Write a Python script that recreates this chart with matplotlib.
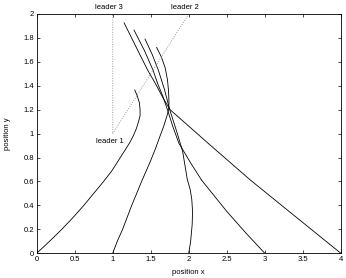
import matplotlib
matplotlib.use("Agg")
import matplotlib.pyplot as plt

plt.rcParams['font.family'] = ['Liberation Sans', 'DejaVu Sans']

# follower trajectories
ax_x = [0, 0.17, 0.33, 0.48, 0.62, 0.75, 0.88, 0.99, 1.08, 1.16, 1.22, 1.27, 1.31, 1.34, 1.36, 1.36, 1.35, 1.32, 1.29]
ax_y = [0, 0.10, 0.20, 0.30, 0.40, 0.50, 0.60, 0.69, 0.78, 0.86, 0.92, 0.98, 1.04, 1.10, 1.15, 1.20, 1.26, 1.32, 1.364]

bx_x = [1.0, 1.06, 1.13, 1.25, 1.38, 1.49, 1.56, 1.62, 1.67, 1.71, 1.735, 1.74, 1.735, 1.72, 1.69, 1.64, 1.578]
bx_y = [0.0, 0.10, 0.20, 0.40, 0.60, 0.76, 0.87, 0.975, 1.06, 1.14, 1.20, 1.26, 1.35, 1.45, 1.55, 1.64, 1.72]

cx_x = [2.0, 2.025, 2.045, 2.05, 2.04, 2.02, 1.98, 1.92, 1.85, 1.75, 1.68, 1.60, 1.52, 1.425]
cx_y = [0.0, 0.10, 0.24, 0.35, 0.45, 0.53, 0.62, 0.85, 1.00, 1.20, 1.37, 1.53, 1.66, 1.79]

dx_x = [3.0, 2.75, 2.5, 2.17, 2.02, 1.87, 1.79, 1.72, 1.66, 1.59, 1.53, 1.42, 1.28]
dx_y = [0.0, 0.17, 0.35, 0.61, 0.76, 0.92, 1.06, 1.20, 1.31, 1.42, 1.53, 1.69, 1.865]

ex_x = [4.0, 3.27, 2.81, 2.28, 1.95, 1.754, 1.66, 1.56, 1.46, 1.31, 1.15]
ex_y = [0.0, 0.375, 0.612, 0.905, 1.09, 1.20, 1.30, 1.42, 1.53, 1.72, 1.925]

# leaders
lead_x = [1, 2, 1]
lead_y = [1, 2, 2]
lead_names = ["leader 1", "leader 2", "leader 3"]

fig = plt.figure(figsize=(3.46, 2.78), dpi=100)
ax = fig.add_axes([0.106, 0.089, 0.879, 0.861])

for xs, ys in [(ax_x, ax_y), (bx_x, bx_y), (cx_x, cx_y), (dx_x, dx_y), (ex_x, ex_y)]:
    ax.plot(xs, ys, color='black', lw=0.6)

# dotted triangle between leaders
tri_x = lead_x + [lead_x[0]]
tri_y = lead_y + [lead_y[0]]
ax.plot(tri_x, tri_y, color='#999999', lw=0.7, ls=(0, (1, 1.5)))

ax.text(lead_x[0] - 0.035, lead_y[0] - 0.04, lead_names[0], fontsize=5.5, ha='center', va='top')
ax.text(lead_x[1] - 0.05, lead_y[1] + 0.025, lead_names[1], fontsize=5.5, ha='center', va='bottom')
ax.text(lead_x[2] - 0.05, lead_y[2] + 0.025, lead_names[2], fontsize=5.5, ha='center', va='bottom')

ax.set_xlim(0, 4)
ax.set_ylim(0, 2)
ax.set_xticks([0, 0.5, 1, 1.5, 2, 2.5, 3, 3.5, 4])
ax.set_xticklabels(["0", "0.5", "1", "1.5", "2", "2.5", "3", "3.5", "4"])
ax.set_yticks([0, 0.2, 0.4, 0.6, 0.8, 1, 1.2, 1.4, 1.6, 1.8, 2])
ax.set_yticklabels(["0", "0.2", "0.4", "0.6", "0.8", "1", "1.2", "1.4", "1.6", "1.8", "2"])
ax.tick_params(direction='in', top=True, right=True, length=2.5, width=0.5, labelsize=5.5, pad=2)
for s in ax.spines.values():
    s.set_linewidth(0.6)

ax.set_xlabel("position x", fontsize=5.5, labelpad=4)
ax.set_ylabel("position y", fontsize=5.5, labelpad=9)

fig.savefig("out.png", dpi=100)
